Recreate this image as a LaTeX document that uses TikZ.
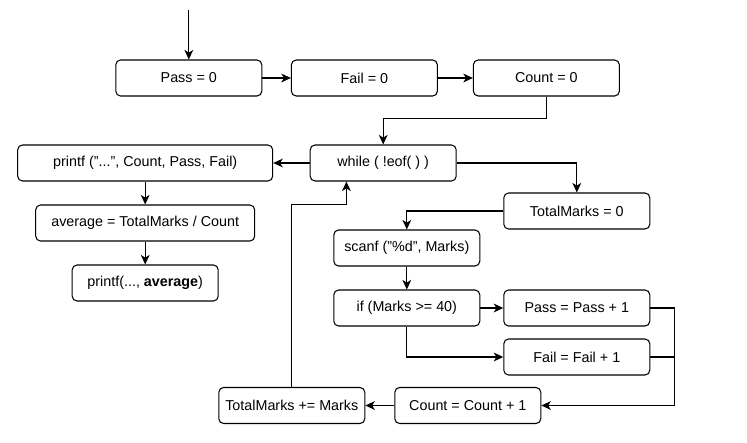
\documentclass[tikz,border=0pt]{standalone}
\usepackage{fontspec}
\setmainfont{Liberation Sans}
\usetikzlibrary{arrows.meta, positioning}
\tikzset{>={Stealth[width=2.2mm,length=2.4mm,inset=0.7mm]}}
\tikzset{block/.style={draw, rounded corners=1.2mm, line width=0.75pt, minimum width=3.65cm, minimum height=0.9cm, font=\fontsize{10.2}{12}\selectfont}}

\begin{document}
\begin{tikzpicture}[auto, on grid, node distance = 1.5cm]
	\useasboundingbox (0,0) rectangle (18.675,-11.05);
	\node (pass) [block] at (4.72,-1.95) {Pass = 0};
	\node (fail) [block, right = 4.39cm of pass] {Fail = 0};
	\node (count) [block, right = 4.55cm of fail] {Count = 0};
	\node (while) [block, below right = 2.125cm and 4.86cm of pass] {while ( !eof( ) )};
	\node (printf) [block, minimum width = 6.375cm, left = 5.95cm of while] {printf ("...", Count, Pass, Fail)};
	\node (avg) [block, minimum width = 5.475cm, below = of printf] {average = TotalMarks / Count};
	\node (out) [block, below = of avg] {printf(..., \textbf{average})};
	\node (total) [block, below right = 1.2cm and 4.84cm of while] {TotalMarks = 0};
	\node (scan) [block, below left = 0.925cm and 4.25cm of total] {scanf ("\%d", Marks)};
	\node (if) [block, below = of scan] {if (Marks >= 40)};
	\node (passinc) [block, right = 4.25cm of if] {Pass = Pass + 1};
	\node (failinc) [block, below = 1.225cm of passinc] {Fail = Fail + 1};
	\node (countinc) [block, below left = 1.2125cm and 2.725cm of failinc] {Count = Count + 1};
	\node (totaladd) [block, left = 4.4cm of countinc] {TotalMarks += Marks};
	\coordinate [above = 1.7cm of pass] (start);
	\coordinate [right = 0.6cm of passinc.east] (join);
	\coordinate (back) at ([xshift=-0.92cm]while.south);
	\path[->, line width = 0.75pt]
	(start) edge (pass)
	(pass) edge (fail)
	(fail) edge (count)
	(while) edge (printf)
	(printf) edge (avg)
	(avg) edge (out)
	(scan) edge (if)
	(if) edge (passinc)
	(countinc) edge (totaladd);
	\draw[->, line width = 0.75pt] (count.south) -- ++(0,-0.55) -| (while.north);
	\draw[->, line width = 0.75pt] (while.east) -| (total.north);
	\draw[->, line width = 0.75pt] (total.west) -| (scan.north);
	\draw[->, line width = 0.75pt] (if.south) |- (failinc.west);
	\draw[->, line width = 0.75pt] (passinc.east) -- (join) |- (countinc.east);
	\draw[line width = 0.75pt] (failinc.east) -- (failinc.east -| join);
	\draw[->, line width = 0.75pt] (totaladd.north) |- ([yshift=-0.575cm]back) -- (back);
\end{tikzpicture}
\end{document}
